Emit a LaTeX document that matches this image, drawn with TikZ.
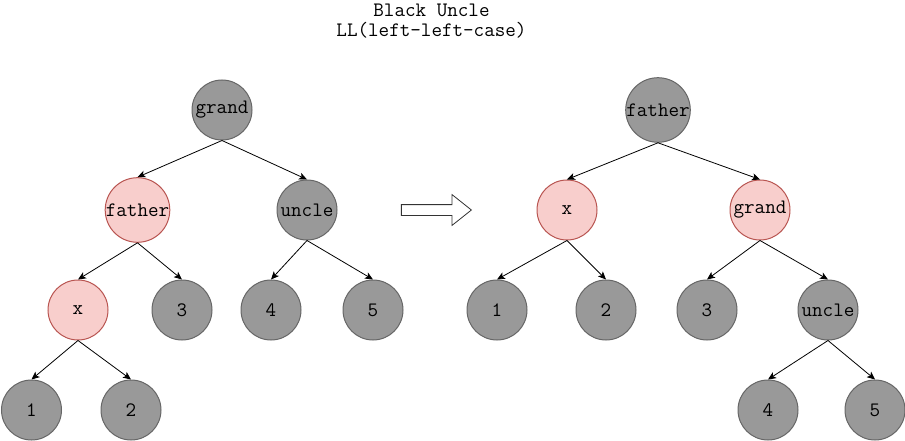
\documentclass[tikz,border=0pt]{standalone}
\usepackage{xcolor}
\usepackage{tikz}
\usetikzlibrary{arrows.meta, shapes.arrows}
\definecolor{nodeGray}{HTML}{999999}
\definecolor{lineGray}{HTML}{666666}
\definecolor{nodePink}{HTML}{F8CECC}
\definecolor{linePink}{HTML}{B85450}

\begin{document}
\begin{tikzpicture}[
        x=1pt, y=-1pt,
        font=\ttfamily\fontsize{20.5}{20}\selectfont,
        blacknode/.style={circle, draw=lineGray, fill=nodeGray, line width=1pt,
            minimum size=60pt, inner sep=0pt},
        rednode/.style={circle, draw=linePink, fill=nodePink, line width=1pt,
            minimum size=60pt, inner sep=0pt},
        arr/.style={-{Stealth[length=8pt, width=7pt, inset=2pt]}, line width=0.8pt, black}
    ]
    \useasboundingbox (0,0) rectangle (905,441);
    % title
    \node[align=center, inner sep=0pt] (title) at (431.5,21) {Black Uncle\\LL(left-left-case)};
    % tree before rotation
    \node[blacknode] (lgrand)  at (222,110) {grand};
    \node[rednode]   (lfather) at (137.5,210) {father};
    \node[blacknode] (luncle)  at (307,210) {uncle};
    \node[rednode]   (lx)      at (78,310) {x};
    \node[blacknode] (lthree)  at (182,310) {3};
    \node[blacknode] (lfour)   at (271,310) {4};
    \node[blacknode] (lfive)   at (373,310) {5};
    \node[blacknode] (lone)    at (31.5,410) {1};
    \node[blacknode] (ltwo)    at (131,410) {2};
    \draw[arr] (lgrand.south) -- (lfather.north);
    \draw[arr] (lgrand.south) -- (luncle.north);
    \draw[arr] (lfather.south) -- (lx.north);
    \draw[arr] (lfather.south) -- (lthree.north);
    \draw[arr] (luncle.south) -- (lfour.north);
    \draw[arr] (luncle.south) -- (lfive.north);
    \draw[arr] (lx.south) -- (lone.north);
    \draw[arr] (lx.south) -- (ltwo.north);
    % rotation arrow
    \node[single arrow, draw=black!80, line width=0.8pt, fill=white, inner sep=5pt,
        minimum height=70pt, single arrow head extend=10pt,
        single arrow tip angle=77, single arrow head indent=0pt] (turn) at (433,210) {};
    % tree after rotation
    \node[blacknode] (rfather) at (658,110) {father};
    \node[rednode]   (rx)      at (567,210) {x};
    \node[rednode]   (rgrand)  at (760,210) {grand};
    \node[blacknode] (rone)    at (497,310) {1};
    \node[blacknode] (rtwo)    at (606,310) {2};
    \node[blacknode] (rthree)  at (707,310) {3};
    \node[blacknode] (runcle)  at (828,310) {uncle};
    \node[blacknode] (rfour)   at (768,410) {4};
    \node[blacknode] (rfive)   at (875,410) {5};
    \draw[arr] (rfather.south) -- (rx.north);
    \draw[arr] (rfather.south) -- (rgrand.north);
    \draw[arr] (rx.south) -- (rone.north);
    \draw[arr] (rx.south) -- (rtwo.north);
    \draw[arr] (rgrand.south) -- (rthree.north);
    \draw[arr] (rgrand.south) -- (runcle.north);
    \draw[arr] (runcle.south) -- (rfour.north);
    \draw[arr] (runcle.south) -- (rfive.north);
\end{tikzpicture}
\end{document}
